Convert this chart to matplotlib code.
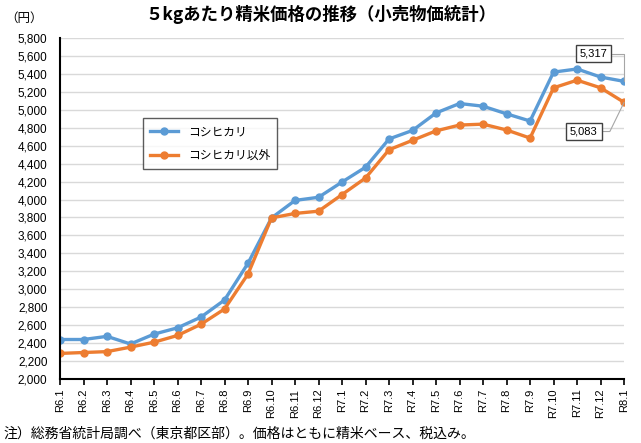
import matplotlib
matplotlib.use("Agg")
import matplotlib.pyplot as plt
from matplotlib.ticker import FuncFormatter, MultipleLocator

plt.rcParams['font.family'] = ['Noto Sans CJK JP', 'DejaVu Sans']

months = ['R6.1', 'R6.2', 'R6.3', 'R6.4', 'R6.5', 'R6.6', 'R6.7', 'R6.8', 'R6.9',
          'R6.10', 'R6.11', 'R6.12', 'R7.1', 'R7.2', 'R7.3', 'R7.4', 'R7.5', 'R7.6',
          'R7.7', 'R7.8', 'R7.9', 'R7.10', 'R7.11', 'R7.12', 'R8.1']
koshihikari = [2440, 2440, 2475, 2390, 2500, 2570, 2690, 2880, 3290, 3795, 3990, 4025,
               4195, 4360, 4675, 4770, 4965, 5070, 5040, 4955, 4875, 5420, 5455, 5365, 5317]
others = [2285, 2295, 2305, 2355, 2410, 2485, 2610, 2780, 3170, 3795, 3845, 3870,
          4055, 4240, 4555, 4660, 4765, 4830, 4840, 4775, 4685, 5245, 5330, 5245, 5083]

blue = '#5b9bd5'
orange = '#ed7d31'
tick_font = ['Liberation Sans', 'DejaVu Sans']

fig = plt.figure(figsize=(6.41, 4.43), dpi=100)
ax = fig.add_axes([0.0936, 0.1445, 0.88, 0.7697])

x = list(range(len(months)))
ax.plot(x, koshihikari, color=blue, lw=2.4, marker='o', ms=5, label='コシヒカリ')
ax.plot(x, others, color=orange, lw=2.4, marker='o', ms=5, label='コシヒカリ以外')

ax.set_xlim(0, len(months) - 1)
ax.set_ylim(2000, 5800)
ax.yaxis.set_major_locator(MultipleLocator(200))
ax.yaxis.set_major_formatter(FuncFormatter(lambda v, p: f'{int(v):,}'))
ax.set_xticks(x)
ax.set_xticklabels(months, rotation=90, fontsize=8, family=tick_font)
for t in ax.get_yticklabels():
    t.set_fontsize(8.5)
    t.set_family(tick_font)

ax.grid(axis='y', color='#d9d9d9', lw=1)
ax.set_axisbelow(True)
for s in ['top', 'right']:
    ax.spines[s].set_visible(False)
ax.spines['left'].set_linewidth(1.5)
ax.spines['bottom'].set_linewidth(1.5)
ax.tick_params(axis='y', length=0, pad=9)
ax.tick_params(axis='x', length=4, width=1.2, direction='out', pad=3)

leg = ax.legend(loc='upper left', bbox_to_anchor=(0.147, 0.765), borderaxespad=0,
                fontsize=8.5, fancybox=False, edgecolor='#333333', handlelength=2.4,
                borderpad=0.6, labelspacing=0.9)
leg.get_frame().set_linewidth(1)

box = dict(boxstyle='square,pad=0.35', fc='white', ec='#404040', lw=1)
ax.annotate(f'{koshihikari[-1]:,}', xy=(x[-1], koshihikari[-1]), xytext=(-22, 20),
            textcoords='offset points', ha='center', va='center', fontsize=8,
            family=tick_font, bbox=box,
            arrowprops=dict(arrowstyle='-', color='#a6a6a6', lw=0.8, shrinkA=0, shrinkB=0,
                            connectionstyle='angle,angleA=0,angleB=90,rad=0'),
            annotation_clip=False)
ax.annotate(f'{others[-1]:,}', xy=(x[-1], others[-1]), xytext=(-29, -21),
            textcoords='offset points', ha='center', va='center', fontsize=8,
            family=tick_font, bbox=box,
            arrowprops=dict(arrowstyle='-', color='#a6a6a6', lw=0.8, shrinkA=0, shrinkB=0,
                            connectionstyle='angle,angleA=0,angleB=64,rad=0'),
            annotation_clip=False)

fig.text(0.5, 0.968, '５kgあたり精米価格の推移（小売物価統計）', ha='center', va='center',
         fontsize=12.5, fontweight='bold')
fig.text(0.008, 0.958, '（円）', ha='left', va='center', fontsize=9)
fig.text(0.005, 0.022, '注）総務省統計局調べ（東京都区部）。価格はともに精米ベース、税込み。',
         ha='left', va='center', fontsize=10)

fig.savefig('out.png', dpi=100)
